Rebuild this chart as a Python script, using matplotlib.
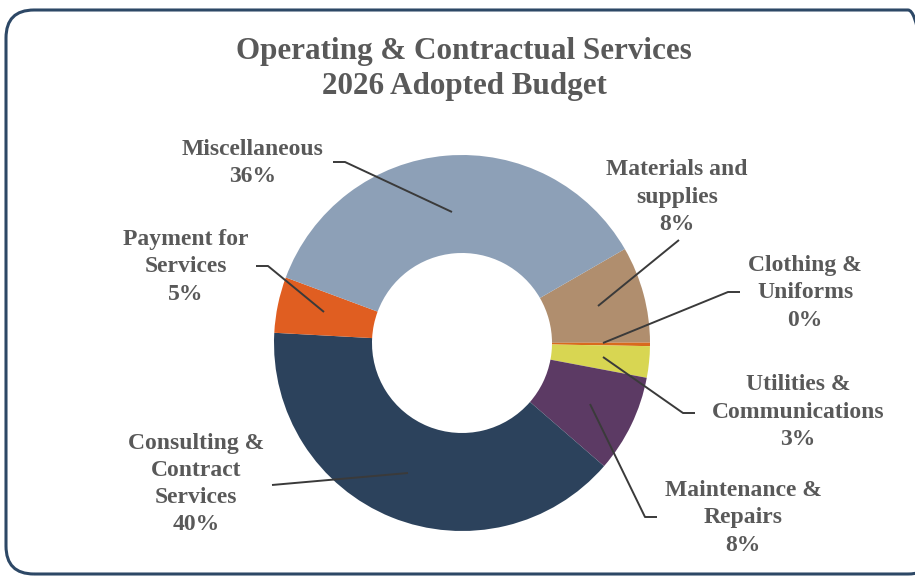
import matplotlib
matplotlib.use("Agg")
import matplotlib.pyplot as plt
from matplotlib.patches import FancyBboxPatch

# slices listed clockwise, starting at the upper right
categories = ["Materials and\nsupplies", "Clothing &\nUniforms", "Utilities &\nCommunications",
              "Maintenance &\nRepairs", "Consulting &\nContract\nServices", "Payment for\nServices",
              "Miscellaneous"]
shares = [8.3, 0.3, 2.7, 8.4, 39.5, 4.8, 36.0]
colors = ["#b08e6e", "#d86a1e", "#d8d652", "#5c3a64", "#2c425c", "#e05e21", "#8da0b7"]

W, H = 915, 576
fig = plt.figure(figsize=(W / 100, H / 100), dpi=100)
ax = fig.add_axes([0, 0, 1, 1])

def py(y):
    # pixel row (from top) to data y
    return H - y

cx, cy, R = 462, 343, 188
ax.pie(shares, colors=colors, startangle=30, counterclock=False,
       center=(cx, py(cy)), radius=R,
       wedgeprops=dict(width=98, linewidth=0))

ax.set_xlim(0, W)
ax.set_ylim(0, H)
ax.set_aspect("equal")
ax.axis("off")

# frame
frame = FancyBboxPatch((6, py(574)), 930, 564, boxstyle="round,pad=0,rounding_size=28",
                       fill=False, edgecolor="#2d4866", linewidth=2.2, clip_on=False)
ax.add_patch(frame)

txt = "#595959"
font = "Liberation Serif"
ax.text(464, py(69), "Operating & Contractual Services\n2026 Adopted Budget", ha="center",
        va="center", fontsize=22.4, fontweight="bold", color=txt, family=font, linespacing=1.3)

# label centers (pixels) and leader lines
label_pos = [(677, 197), (805, 293), (798, 412), (743, 518), (196, 484), (186, 267), (253, 163)]
leaders = [
    [(679, 240), (598, 306)],
    [(740, 292), (728, 292), (603, 343)],
    [(695, 413), (683, 413), (603, 357)],
    [(657, 517), (645, 517), (590, 404)],
    [(272, 485), (408, 473)],
    [(256, 266), (268, 266), (324, 312)],
    [(333, 162), (345, 162), (452, 212)],
]

for name, val, (lx, ly), pts in zip(categories, shares, label_pos, leaders):
    ax.text(lx, py(ly), f"{name}\n{round(val):.0f}%", ha="center", va="center",
            fontsize=17, fontweight="bold", color=txt, family=font, linespacing=1.38)
    ax.plot([p[0] for p in pts], [py(p[1]) for p in pts], color="#3a3a3a", linewidth=1.4,
            solid_capstyle="butt")

fig.savefig("out.png", dpi=100)
